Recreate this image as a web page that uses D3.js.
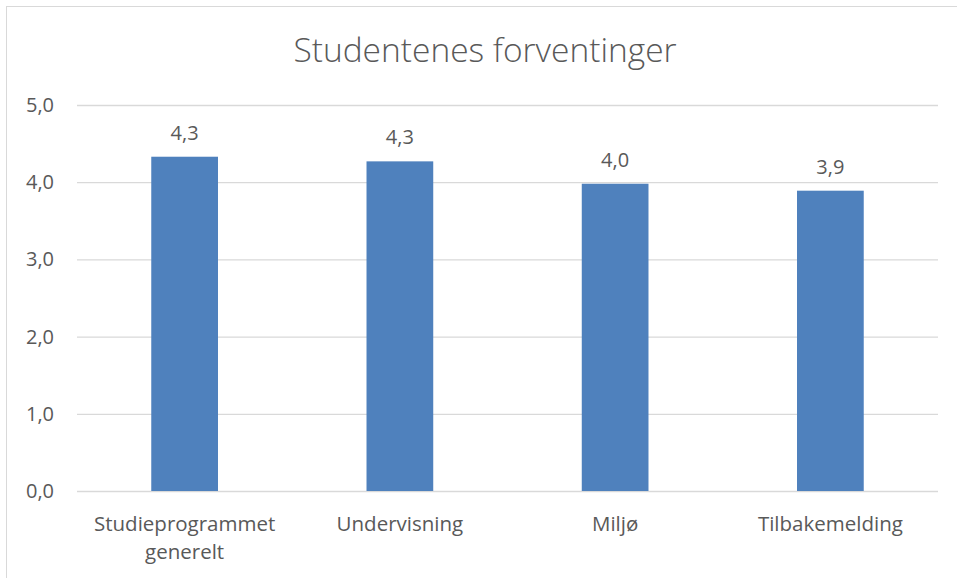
<!DOCTYPE html>
<html>
<head>
<meta charset="utf-8">
<script src="https://cdn.jsdelivr.net/npm/d3@7"></script>
<style>
  body { margin: 0; background: #fff; }
  text { font-family: "Open Sans", sans-serif; fill: #595959; }
</style>
</head>
<body>
<svg class="chart"></svg>
<script>
var categories = ["Studieprogrammet generelt", "Undervisning", "Miljø", "Tilbakemelding"];
var values = [4.33, 4.27, 3.98, 3.89];
var yTicks = [0, 1, 2, 3, 4, 5];
var title = "Studentenes forventinger";

var width = 957, height = 578;
var margin = {top: 105, right: 19, bottom: 87, left: 77};
var chartWidth = width - margin.left - margin.right;
var chartHeight = height - margin.top - margin.bottom;

var fmt = function(d) { return d3.format(".1f")(d).replace(".", ","); };

var svg = d3.select(".chart").attr("width", width).attr("height", height);

// chart frame
svg.append("rect")
  .attr("x", 6.5).attr("y", 6.5)
  .attr("width", 1000).attr("height", 1000)
  .attr("fill", "#fff").attr("stroke", "#d9d9d9");

svg.append("text")
  .attr("x", 485).attr("y", 62)
  .attr("text-anchor", "middle")
  .style("font-size", "33.5px")
  .style("font-weight", 300)
  .text(title);

var chart = svg.append("g").attr("transform", "translate(" + margin.left + "," + margin.top + ")");

var x = d3.scaleBand().domain(categories).range([0, chartWidth]).paddingInner(0.69).paddingOuter(0.345);
var y = d3.scaleLinear().domain([0, 5]).range([chartHeight, 0]);

// y axis with gridlines
var yAxis = chart.append("g")
  .call(d3.axisLeft(y).tickValues(yTicks).tickSize(-chartWidth).tickPadding(23).tickFormat(fmt));
yAxis.select(".domain").remove();
yAxis.selectAll("line").attr("stroke", "#d9d9d9").attr("stroke-width", 1.3);
yAxis.selectAll("text").style("font-size", "20px").attr("fill", "#595959");

// x axis labels, wrapped to the band step
var xAxis = chart.append("g")
  .attr("transform", "translate(0," + chartHeight + ")")
  .call(d3.axisBottom(x).tickSize(0).tickPadding(0));
xAxis.select(".domain").remove();
xAxis.selectAll("text")
  .style("font-size", "20.5px")
  .attr("fill", "#595959")
  .attr("y", 0).attr("dy", null)
  .each(function(d) {
    var t = d3.select(this);
    var words = d.split(" ");
    var lines = [], line = [];
    words.forEach(function(w) {
      line.push(w);
      t.text(line.join(" "));
      if (t.node().getComputedTextLength() > x.step() - 10 && line.length > 1) {
        line.pop();
        lines.push(line.join(" "));
        line = [w];
      }
    });
    lines.push(line.join(" "));
    t.text(null);
    lines.forEach(function(l, i) {
      t.append("tspan").attr("x", 0).attr("y", 40 + i * 28).text(l);
    });
  });

// bars
chart.selectAll(".bar")
  .data(values)
  .enter().append("rect")
  .attr("class", "bar")
  .attr("x", function(d, i) { return x(categories[i]); })
  .attr("width", x.bandwidth())
  .attr("y", function(d) { return y(d); })
  .attr("height", function(d) { return chartHeight - y(d); })
  .attr("fill", "#4f81bd");

// data labels
chart.selectAll(".lbl")
  .data(values)
  .enter().append("text")
  .attr("class", "lbl")
  .attr("x", function(d, i) { return x(categories[i]) + x.bandwidth() / 2; })
  .attr("y", function(d) { return y(d) - 17; })
  .attr("text-anchor", "middle")
  .style("font-size", "20px")
  .text(function(d) { return fmt(d); });
</script>
</body>
</html>
